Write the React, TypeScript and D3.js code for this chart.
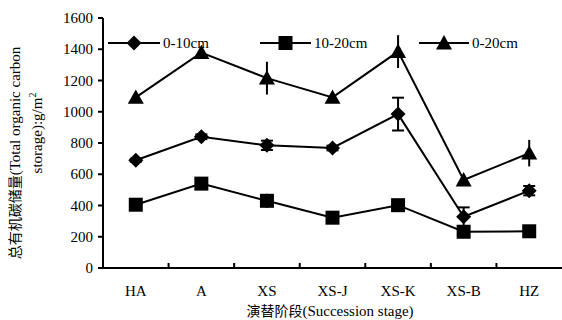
import React from "react";
import * as d3 from "d3";

const categories = ["HA", "A", "XS", "XS-J", "XS-K", "XS-B", "HZ"];
const series0_10 = [690, 840, 785, 768, 985, 328, 495];
const err0_10 = [10, 15, 30, 15, 105, 60, 30];
const series10_20 = [405, 540, 430, 322, 402, 232, 235];
const err10_20 = [10, 15, 45, 10, 10, 10, 15];
const series0_20 = [1092, 1378, 1215, 1092, 1385, 563, 735];
const err0_20 = [10, 15, 105, 10, 105, 10, 85];
const yTicks = [0, 200, 400, 600, 800, 1000, 1200, 1400, 1600];
const seriesNames = ["0-10cm", "10-20cm", "0-20cm"];

const W = 562, H = 320;
const left = 103, right = 562, top = 18, bottom = 268;

export default function App() {
  const x = d3.scaleBand().domain(categories).range([left, right]).padding(0);
  const y = d3.scaleLinear().domain([0, 1600]).range([bottom, top]);
  const cx = (c: string) => (x(c) as number) + x.bandwidth() / 2;
  const font = "Liberation Serif, Times New Roman, serif";
  const cjk = "Noto Sans CJK SC";
  const line = d3.line<number>().x((_, i) => cx(categories[i])).y((v) => y(v));

  const marker = (type: string, px: number, py: number, key: any) => {
    if (type === "diamond") {
      const s = 7.5;
      return <path key={key} d={`M${px},${py - s}L${px + s},${py}L${px},${py + s}L${px - s},${py}Z`} fill="#000" />;
    }
    if (type === "square") {
      const s = 7;
      return <rect key={key} x={px - s} y={py - s} width={2 * s} height={2 * s} fill="#000" />;
    }
    const s = 8;
    return <path key={key} d={`M${px},${py - s}L${px + s},${py + s * 0.8}L${px - s},${py + s * 0.8}Z`} fill="#000" />;
  };

  const seriesList = [
    { vals: series0_10, errs: err0_10, m: "diamond", cap: 6 },
    { vals: series10_20, errs: err10_20, m: "square", cap: 0 },
    { vals: series0_20, errs: err0_20, m: "triangle", cap: 0 },
  ];

  const legendItems = [
    { x1: 108, x2: 160, m: "diamond", tx: 163 },
    { x1: 260, x2: 311, m: "square", tx: 314 },
    { x1: 419, x2: 469, m: "triangle", tx: 472 },
  ];
  const ly = 43;

  return (
    <svg width={W} height={H} style={{ position: "absolute", left: 0, top: 0, background: "#fff" }}>
      <rect width={W} height={H} fill="#fff" />
      {/* legend */}
      {legendItems.map((l, i) => (
        <g key={i}>
          <line x1={l.x1} x2={l.x2} y1={ly} y2={ly} stroke="#000" strokeWidth={2} />
          {marker(l.m, (l.x1 + l.x2) / 2, ly, "lm")}
          <text x={l.tx} y={ly + 5} style={{ fontFamily: font }} fontSize={15}>{seriesNames[i]}</text>
        </g>
      ))}
      {/* axes */}
      <line x1={left} x2={left} y1={top} y2={bottom} stroke="#000" strokeWidth={2} />
      <line x1={left} x2={right} y1={bottom} y2={bottom} stroke="#000" strokeWidth={2} />
      {yTicks.map((t) => (
        <g key={t}>
          <line x1={left - 5} x2={left} y1={y(t)} y2={y(t)} stroke="#000" strokeWidth={2} />
          <text x={left - 10} y={y(t) + 5} textAnchor="end" style={{ fontFamily: font }} fontSize={15}>{t}</text>
        </g>
      ))}
      {categories.slice(1).map((c) => (
        <line key={c} x1={x(c) as number} x2={x(c) as number} y1={bottom} y2={bottom - 5} stroke="#000" strokeWidth={2} />
      ))}
      {categories.map((c) => (
        <text key={c} x={cx(c)} y={296} textAnchor="middle" style={{ fontFamily: font }} fontSize={15}>{c}</text>
      ))}
      <text x={330} y={316} textAnchor="middle" fontSize={15}>
        <tspan style={{ fontFamily: cjk }} fontSize={14}>演替阶段</tspan>
        <tspan style={{ fontFamily: font }}>(Succession stage)</tspan>
      </text>
      <text transform="translate(20,153) rotate(-90)" textAnchor="middle" fontSize={15}>
        <tspan style={{ fontFamily: cjk }} fontSize={14}>总有机碳储量</tspan>
        <tspan style={{ fontFamily: font }}>(Total organic carbon</tspan>
      </text>
      <text transform="translate(42,133) rotate(-90)" textAnchor="middle" style={{ fontFamily: font }} fontSize={15}>
        storage):g/m<tspan dy={-6} fontSize={10}>2</tspan>
      </text>
      {/* series */}
      {seriesList.map((s, si) => (
        <g key={si}>
          <path d={line(s.vals) || ""} fill="none" stroke="#000" strokeWidth={2} />
          {s.vals.map((v, i) => {
            const px = cx(categories[i]);
            const e = s.errs[i];
            return (
              <g key={i}>
                <line x1={px} x2={px} y1={y(v + e)} y2={y(v - e)} stroke="#000" strokeWidth={2} />
                {s.cap > 0 && (
                  <>
                    <line x1={px - s.cap} x2={px + s.cap} y1={y(v + e)} y2={y(v + e)} stroke="#000" strokeWidth={2} />
                    <line x1={px - s.cap} x2={px + s.cap} y1={y(v - e)} y2={y(v - e)} stroke="#000" strokeWidth={2} />
                  </>
                )}
                {marker(s.m, px, y(v), "m")}
              </g>
            );
          })}
        </g>
      ))}
    </svg>
  );
}
